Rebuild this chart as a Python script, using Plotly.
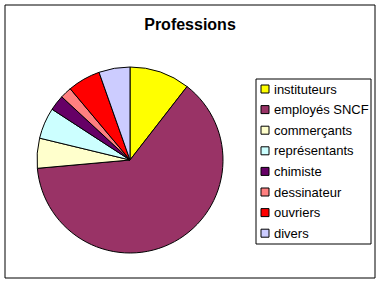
import plotly.graph_objects as go

labels = ["instituteurs", "employés SNCF", "commerçants", "représentants",
          "chimiste", "dessinateur", "ouvriers", "divers"]
values = [10.5, 63.0, 5.2, 5.4, 2.7, 2.0, 5.7, 5.4]
colors = ["#FFFF00", "#993366", "#FFFFCC", "#CCFFFF",
          "#660066", "#FF8080", "#FF0000", "#CCCCFF"]

W, H = 381, 283
cx, cy, r = 130, 160, 93


def px(x):
    return x / W


def py(y):
    return 1 - y / H


fig = go.Figure(go.Pie(
    labels=labels, values=values, sort=False, direction="clockwise",
    rotation=0, textinfo="none", hoverinfo="label+percent",
    marker=dict(colors=colors, line=dict(color="black", width=1)),
    domain=dict(x=[px(cx - r), px(cx + r)], y=[py(cy + r), py(cy - r)]),
    showlegend=False,
))

shapes = [
    dict(type="rect", xref="paper", yref="paper",
         x0=px(5), y0=py(278), x1=px(375), y1=py(5),
         line=dict(color="black", width=1)),
    dict(type="rect", xref="paper", yref="paper",
         x0=px(256), y0=py(244), x1=px(371), y1=py(79),
         line=dict(color="black", width=1), fillcolor="white", layer="below"),
]
annotations = []
row0, step = 89, 20.6
for i, (lab, col) in enumerate(zip(labels, colors)):
    yc = row0 + i * step
    shapes.append(dict(type="rect", xref="paper", yref="paper",
                       x0=px(261), x1=px(269), y0=py(yc + 4), y1=py(yc - 4),
                       fillcolor=col, line=dict(color="black", width=1)))
    annotations.append(dict(text=lab, xref="paper", yref="paper",
                            x=px(272), y=py(yc), xanchor="left", yanchor="middle",
                            showarrow=False,
                            font=dict(family="Liberation Sans, Arial", size=13,
                                      color="black")))

fig.update_layout(
    width=W, height=H, margin=dict(l=0, r=0, t=0, b=0),
    paper_bgcolor="white", plot_bgcolor="white",
    font=dict(family="Liberation Sans, Arial", size=13, color="black"),
    title=dict(text="<b>Professions</b>", x=px(190), xanchor="center",
               y=py(24), yanchor="middle",
               font=dict(family="Liberation Sans, Arial", size=16, color="black")),
    shapes=shapes, annotations=annotations,
)

fig.write_html("out.html")
